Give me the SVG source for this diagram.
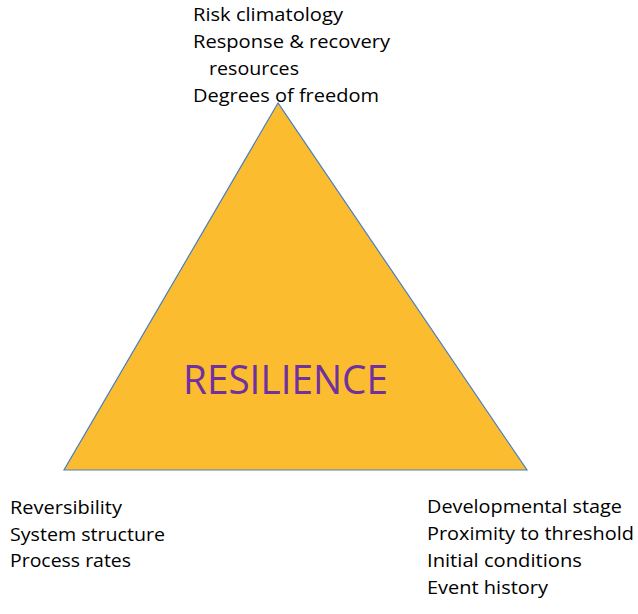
<svg xmlns="http://www.w3.org/2000/svg" width="638" height="614" viewBox="0 0 638 614">
<style>
.t{font-family:"Open Sans","Liberation Sans",sans-serif;font-size:19px;fill:#000}
.big{font-family:"Open Sans","Liberation Sans",sans-serif;font-size:41px;fill:#7030A0}
</style>
<rect width="638" height="614" fill="#fff"/>
<g id="triangle">
<polygon points="278,103 64,470 527,470" fill="#FBBD2F" stroke="#4A7EC0" stroke-width="1.2"/>
<text class="big" x="183" y="394" textLength="205" lengthAdjust="spacingAndGlyphs">RESILIENCE</text>
</g>
<g id="top">
<text class="t" x="193" y="21" textLength="150" lengthAdjust="spacingAndGlyphs">Risk climatology</text>
<text class="t" x="193" y="48" textLength="197" lengthAdjust="spacingAndGlyphs">Response &amp; recovery</text>
<text class="t" x="209" y="75" textLength="90" lengthAdjust="spacingAndGlyphs">resources</text>
<text class="t" x="193" y="102" textLength="186" lengthAdjust="spacingAndGlyphs">Degrees of freedom</text>
</g>
<g id="left">
<text class="t" x="10" y="514" textLength="112" lengthAdjust="spacingAndGlyphs">Reversibility</text>
<text class="t" x="10" y="541" textLength="155" lengthAdjust="spacingAndGlyphs">System structure</text>
<text class="t" x="10" y="567" textLength="121" lengthAdjust="spacingAndGlyphs">Process rates</text>
</g>
<g id="right">
<text class="t" x="427" y="513" textLength="195" lengthAdjust="spacingAndGlyphs">Developmental stage</text>
<text class="t" x="427" y="540" textLength="207" lengthAdjust="spacingAndGlyphs">Proximity to threshold</text>
<text class="t" x="427" y="567" textLength="155" lengthAdjust="spacingAndGlyphs">Initial conditions</text>
<text class="t" x="427" y="594" textLength="121" lengthAdjust="spacingAndGlyphs">Event history</text>
</g>
<g id="connectors"></g>
</svg>
